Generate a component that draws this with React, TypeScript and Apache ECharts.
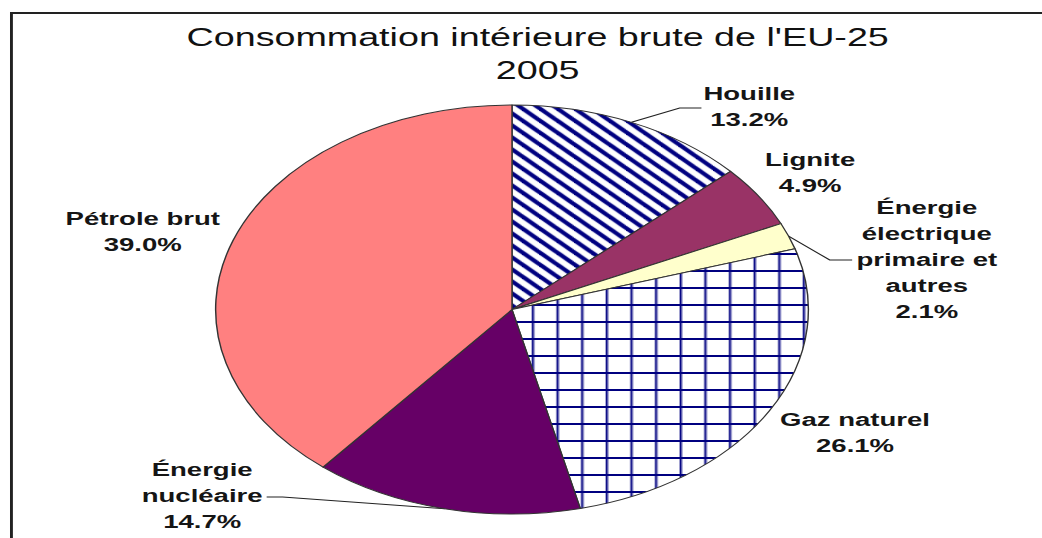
import React, { useEffect, useRef } from "react";
import * as echarts from "echarts";

// ---- data ----
const categories = [
  "Houille",
  "Lignite",
  "Énergie\nélectrique\nprimaire et\nautres",
  "Gaz naturel",
  "Énergie\nnucléaire",
  "Pétrole brut",
];
const shares = [13.2, 4.9, 2.1, 26.1, 14.7, 39.0];
const titleLines = ["Consommation intérieure brute de l'EU-25", "2005"];

// ---- layout / style (unscaled px; the whole chart is stretched horizontally) ----
const STRETCH = 1042 / 719;
const labelPos: [number, number][] = [
  [517, 106.5],
  [559, 172.5],
  [639.5, 259.5],
  [590, 432.5],
  [139.5, 496],
  [98.5, 231.5],
];
const leaderPts: ([number, number][] | null)[] = [
  [[469, 108], [484, 108]],
  null,
  [[572.5, 260], [588, 260]],
  null,
  [[195, 497], [184, 497]],
  null,
];

function stripeTile(): string {
  const T = 12;
  const c = document.createElement("canvas");
  c.width = T;
  c.height = T;
  const g = c.getContext("2d")!;
  g.fillStyle = "#ffffff";
  g.fillRect(0, 0, T, T);
  g.strokeStyle = "#000080";
  g.lineWidth = 3.6;
  for (const off of [-T, 0, T]) {
    g.beginPath();
    g.moveTo(-3, -3 + off);
    g.lineTo(T + 3, T + 3 + off);
    g.stroke();
  }
  return c.toDataURL();
}

function gridTile(): string {
  const T = 17;
  const c = document.createElement("canvas");
  c.width = T;
  c.height = T;
  const g = c.getContext("2d")!;
  g.fillStyle = "#ffffff";
  g.fillRect(0, 0, T, T);
  g.fillStyle = "#000080";
  g.fillRect(0, 15, T, 2);
  g.fillRect(10, 0, 1.5, T);
  return c.toDataURL();
}

export default function App() {
  const ref = useRef<HTMLDivElement>(null);
  useEffect(() => {
    if (!ref.current) return;
    const chart = echarts.init(ref.current, null, { renderer: "svg" });
    const stripes = { image: stripeTile(), repeat: "repeat", imageWidth: 12, imageHeight: 12 };
    const grid = { image: gridTile(), repeat: "repeat", imageWidth: 17, imageHeight: 17 };
    const fills: any[] = [stripes, "#993366", "#FFFFCC", grid, "#660066", "#FF8080"];
    const data = categories.map((name, i) => ({
      name,
      value: shares[i],
      itemStyle: { color: fills[i] },
      labelLine: { show: !!leaderPts[i] },
    }));
    chart.setOption({
      animation: false,
      backgroundColor: "#ffffff",
      title: {
        text: titleLines.join("\n"),
        left: 371,
        top: 20.5,
        padding: 0,
        textAlign: "center",
        textStyle: {
          fontFamily: "Liberation Sans, Arial, sans-serif",
          fontSize: 26,
          lineHeight: 33,
          fontWeight: "normal",
          color: "#111111",
        },
      },
      graphic: [
        {
          type: "rect",
          shape: { x: 7.9, y: 13, width: 900, height: 700 },
          style: { fill: "none", stroke: "#222222", lineWidth: 2 },
          silent: true,
        },
      ],
      series: [
        {
          type: "pie",
          center: [1042 / 2 / STRETCH + (512 - 521) / STRETCH, 309.5],
          radius: [0, 204.5],
          startAngle: 90,
          clockwise: true,
          avoidLabelOverlap: false,
          itemStyle: { borderColor: "#333333", borderWidth: 1 },
          label: {
            show: true,
            position: "outside",
            formatter: (p: any) => p.name + "\n" + Number(p.value).toFixed(1) + "%",
            fontFamily: "Liberation Sans, Arial, sans-serif",
            fontSize: 19,
            fontWeight: "bold",
            lineHeight: 26,
            color: "#151515",
            align: "center",
          },
          labelLine: {
            show: true,
            lineStyle: { color: "#222222", width: 1 },
          },
          labelLayout: (params: any) => {
            const i = params.dataIndex;
            const p = labelPos[i];
            const res: any = { x: p[0], y: p[1], align: "center", verticalAlign: "middle" };
            const lp = leaderPts[i];
            if (lp && params.labelLinePoints) {
              res.labelLinePoints = [params.labelLinePoints[0], lp[0], lp[1]];
            }
            return res;
          },
          emphasis: { disabled: true },
          data,
        },
      ],
    });
    return () => chart.dispose();
  }, []);
  return (
    <div
      style={{
        position: "fixed",
        left: 0,
        top: 0,
        width: 1042,
        height: 538,
        overflow: "hidden",
        background: "#ffffff",
      }}
    >
      <div
        ref={ref}
        style={{
          width: 719,
          height: 538,
          transform: `scaleX(${STRETCH})`,
          transformOrigin: "0 0",
        }}
      />
    </div>
  );
}
